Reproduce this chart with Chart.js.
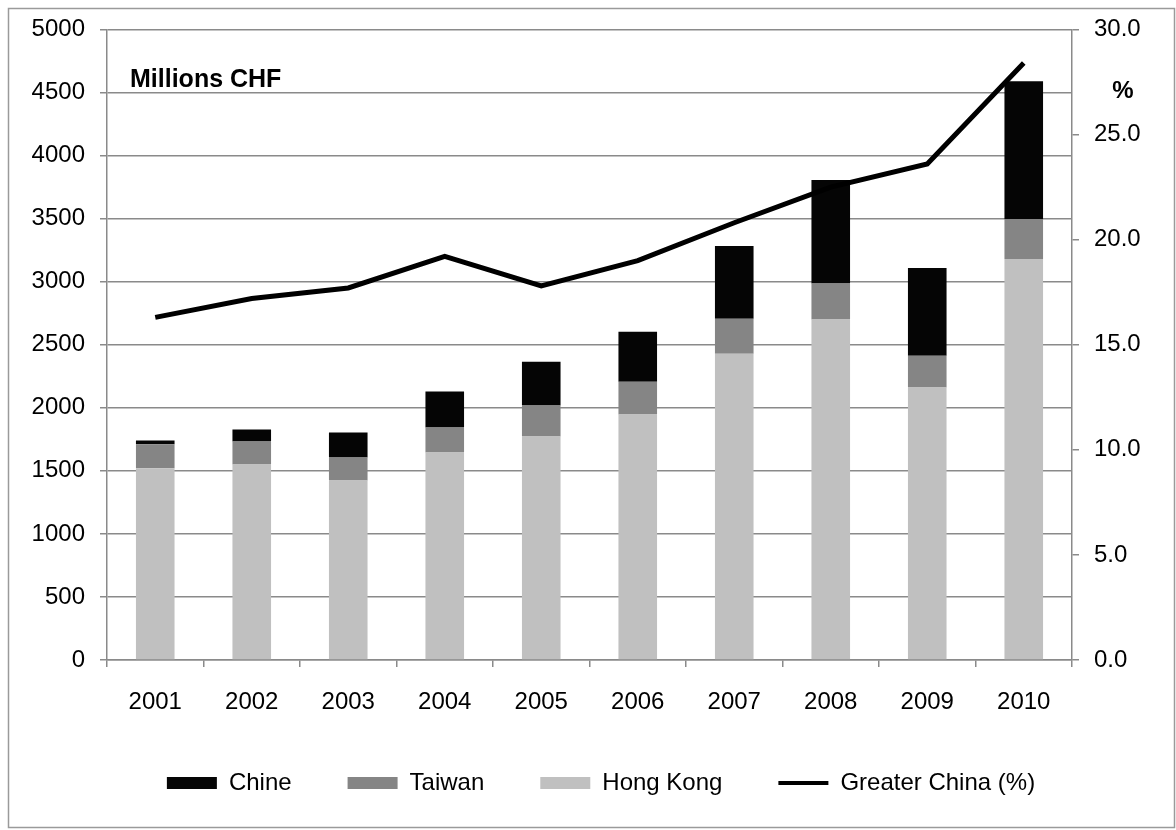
<!DOCTYPE html>
<html lang="en">

<head>
    <meta charset="UTF-8">
    <title>Greater China - Millions CHF</title>
    <script src="https://cdn.jsdelivr.net/npm/chart.js"></script>
    <style>
        body {
            margin: 0;
            background: #ffffff;
        }

        #wrap {
            width: 1176px;
            height: 830px;
        }
    </style>
</head>

<body>
    <div id="wrap">
        <canvas id="chinaChart" width="1176" height="830"></canvas>
    </div>

    <script>
        // Data
        const years = ['2001', '2002', '2003', '2004', '2005', '2006', '2007', '2008', '2009', '2010'];
        const hongKong = [1520, 1550, 1424, 1645, 1772, 1946, 2428, 2700, 2160, 3180];
        const taiwan = [190, 182, 182, 198, 245, 261, 277, 285, 253, 316];
        const chine = [30, 95, 197, 285, 348, 395, 578, 820, 696, 1092];
        const greaterChinaPct = [16.3, 17.2, 17.7, 19.2, 17.8, 19.0, 20.8, 22.5, 23.6, 28.4];

        const legendOrder = ['Chine', 'Taiwan', 'Hong Kong', 'Greater China (%)'];
        const FONT = "'Liberation Sans', Arial, sans-serif";
        const GRID = '#8a8a8a';

        // frame + captions
        const decorPlugin = {
            id: 'decor',
            beforeDraw(chart) {
                const ctx = chart.ctx;
                ctx.save();
                ctx.fillStyle = '#ffffff';
                ctx.fillRect(0, 0, chart.width, chart.height);
                ctx.strokeStyle = '#9a9a9a';
                ctx.lineWidth = 1.5;
                ctx.strokeRect(8.5, 8.5, 1166, 819);
                ctx.restore();
            },
            afterDraw(chart) {
                const ctx = chart.ctx;
                ctx.save();
                ctx.fillStyle = '#000';
                ctx.font = 'bold 25px ' + FONT;
                ctx.textBaseline = 'middle';
                ctx.textAlign = 'left';
                ctx.fillText('Millions CHF', 130, 80);
                ctx.font = 'bold 24px ' + FONT;
                ctx.textAlign = 'center';
                ctx.fillText('%', 1123, 91);
                ctx.restore();
            }
        };

        const ctx = document.getElementById('chinaChart').getContext('2d');
        const chinaChart = new Chart(ctx, {
            type: 'bar',
            data: {
                labels: years,
                datasets: [
                    {
                        type: 'line',
                        label: 'Greater China (%)',
                        data: greaterChinaPct,
                        yAxisID: 'y2',
                        borderColor: '#000000',
                        backgroundColor: '#000000',
                        borderWidth: 5,
                        pointRadius: 0,
                        tension: 0,
                        pointStyle: 'line',
                        order: 0
                    },
                    {
                        label: 'Hong Kong',
                        data: hongKong,
                        backgroundColor: '#c0c0c0',
                        stack: 'gc',
                        pointStyle: 'rect',
                        order: 1
                    },
                    {
                        label: 'Taiwan',
                        data: taiwan,
                        backgroundColor: '#858585',
                        stack: 'gc',
                        pointStyle: 'rect',
                        order: 1
                    },
                    {
                        label: 'Chine',
                        data: chine,
                        backgroundColor: '#050505',
                        stack: 'gc',
                        pointStyle: 'rect',
                        order: 1
                    }
                ]
            },
            options: {
                responsive: false,
                animation: false,
                barPercentage: 0.4,
                categoryPercentage: 1.0,
                layout: {
                    padding: { top: 28, left: 26, right: 0, bottom: 25 }
                },
                plugins: {
                    tooltip: { enabled: false },
                    legend: {
                        position: 'bottom',
                        labels: {
                            usePointStyle: true,
                            pointStyleWidth: 50,
                            boxHeight: 12,
                            padding: 56,
                            color: '#000',
                            font: { family: FONT, size: 24 },
                            sort: (a, b) => legendOrder.indexOf(a.text) - legendOrder.indexOf(b.text),
                            generateLabels(chart) {
                                const items = Chart.defaults.plugins.legend.labels.generateLabels(chart);
                                items.forEach(it => {
                                    if (it.text === 'Greater China (%)') {
                                        it.lineWidth = 4;
                                        it.strokeStyle = '#000';
                                    } else {
                                        it.lineWidth = 0;
                                    }
                                });
                                return items;
                            }
                        }
                    }
                },
                scales: {
                    x: {
                        stacked: true,
                        grid: {
                            offset: true,
                            drawOnChartArea: false,
                            color: GRID,
                            lineWidth: 1.5,
                            tickLength: 7
                        },
                        border: { display: true, color: GRID, width: 1.5 },
                        ticks: {
                            color: '#000',
                            padding: 21,
                            font: { family: FONT, size: 24 }
                        },
                        afterFit(scale) { scale.height = 55; }
                    },
                    y: {
                        stacked: true,
                        position: 'left',
                        min: 0,
                        max: 5000,
                        ticks: {
                            stepSize: 500,
                            color: '#000',
                            padding: 15,
                            font: { family: FONT, size: 24 },
                            callback: v => String(v)
                        },
                        grid: { color: GRID, lineWidth: 1.5, tickLength: 7 },
                        border: { display: true, color: GRID, width: 1.5 },
                        afterFit(scale) { scale.width = 81; }
                    },
                    y2: {
                        position: 'right',
                        min: 0,
                        max: 30,
                        ticks: {
                            stepSize: 5,
                            color: '#000',
                            padding: 15,
                            font: { family: FONT, size: 24 },
                            callback: v => Number(v).toFixed(1)
                        },
                        grid: { drawOnChartArea: false, color: GRID, lineWidth: 1.5, tickLength: 7 },
                        border: { display: true, color: GRID, width: 1.5 },
                        afterFit(scale) { scale.width = 104; }
                    }
                }
            },
            plugins: [decorPlugin]
        });
    </script>
</body>

</html>
